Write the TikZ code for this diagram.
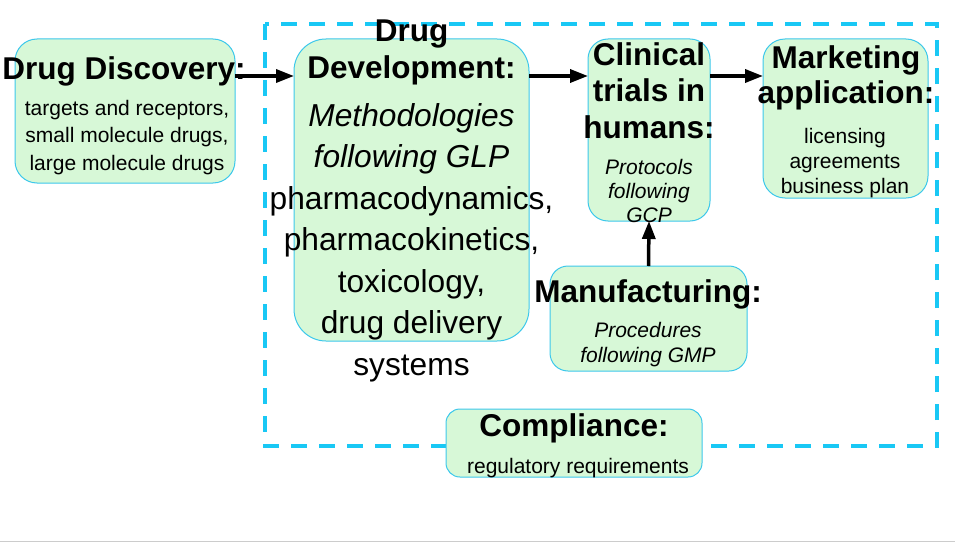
\documentclass[tikz,border=0pt]{standalone}
\usepackage{fontspec}
\setmainfont{Liberation Sans}
\usepackage{tikz}
\usetikzlibrary{arrows.meta}

\definecolor{kutuyesil}{RGB}{215,248,215}
\definecolor{kutumavi}{RGB}{60,200,235}
\definecolor{cerceve}{RGB}{25,200,245}

\begin{document}
\begin{tikzpicture}[x=1pt, y=-1pt, >={Triangle[length=18pt, width=13pt]},
    kutu/.style={draw=kutumavi, fill=kutuyesil, line width=1pt, inner sep=0pt, outer sep=0pt},
    baslik/.style={font=\bfseries\fontsize{31.5}{37}\selectfont, align=center, anchor=base, inner sep=0pt},
    govde/.style={font=\fontsize{21}{24}\selectfont, align=center, anchor=base, inner sep=0pt},
    ok/.style={->, line width=3.5pt}]

        \useasboundingbox (0,0) rectangle (955,543);

        % KESIKLI CERCEVE
        \draw[cerceve, line width=4pt, dash pattern=on 16pt off 12pt] (265,24) rectangle (937,446);

        % KUTULAR
        \node[kutu, minimum width=220pt, minimum height=144pt, rounded corners=22pt] (kesif) at (125,111) {};
        \node[kutu, minimum width=235pt, minimum height=302pt, rounded corners=32pt] (gelistirme) at (411.5,190) {};
        \node[kutu, minimum width=122pt, minimum height=182pt, rounded corners=20pt] (klinik) at (649,130) {};
        \node[kutu, minimum width=165pt, minimum height=159pt, rounded corners=22pt] (pazar) at (845.5,118.5) {};
        \node[kutu, minimum width=197pt, minimum height=105pt, rounded corners=18pt] (uretim) at (648.5,318.5) {};
        \node[kutu, minimum width=256pt, minimum height=68pt, rounded corners=14pt] (uyum) at (574,443) {};

        % Oklar
        \coordinate (oksira) at (0,76);
        \draw[ok] (kesif.east |- oksira) -- (gelistirme.west |- oksira);
        \draw[ok] (gelistirme.east |- oksira) -- (klinik.west |- oksira);
        \draw[ok] (klinik.east |- oksira) -- (pazar.west |- oksira);
        \draw[ok] (uretim.north) -- (klinik.south);

        % YAZILAR (base = son satir)
        \node[baslik] (kesifbas) at (124,79) {Drug Discovery:};
        \node[govde, font=\fontsize{21}{27.5}\selectfont] (kesifgov) at (127,170) {targets and receptors,\\small molecule drugs,\\large molecule drugs};

        \node[baslik] (gelbas) at (411.5,78) {Drug\\Development:};
        \node[govde, font=\fontsize{31.7}{41.5}\selectfont] (gelgov) at (411.5,375) {\textit{Methodologies}\\\textit{following GLP}\\pharmacodynamics,\\pharmacokinetics,\\toxicology,\\drug delivery\\systems};

        \node[baslik, font=\bfseries\fontsize{31.5}{36.5}\selectfont] (klinbas) at (649,138) {Clinical\\trials in\\humans:};
        \node[govde] (klingov) at (649,222) {\textit{Protocols}\\\textit{following}\\\textit{GCP}};

        \node[baslik, font=\bfseries\fontsize{31.5}{35}\selectfont] (pazarbas) at (846,103) {Marketing\\application:};
        \node[govde, font=\fontsize{21}{25}\selectfont] (pazargov) at (845,193) {licensing\\agreements\\business plan};

        \node[baslik] (uretbas) at (648,302) {Manufacturing:};
        \node[govde, font=\fontsize{21}{25}\selectfont] (uretgov) at (648,362) {\textit{Procedures}\\\textit{following GMP}};

        \node[baslik] (uyumbas) at (574,436) {Compliance:};
        \node[govde] (uyumgov) at (578,473) {regulatory requirements};

        % alt cizgi
        \draw[gray!40, line width=1.5pt] (0,541.5) -- (955,541.5);
    \end{tikzpicture}
\end{document}
